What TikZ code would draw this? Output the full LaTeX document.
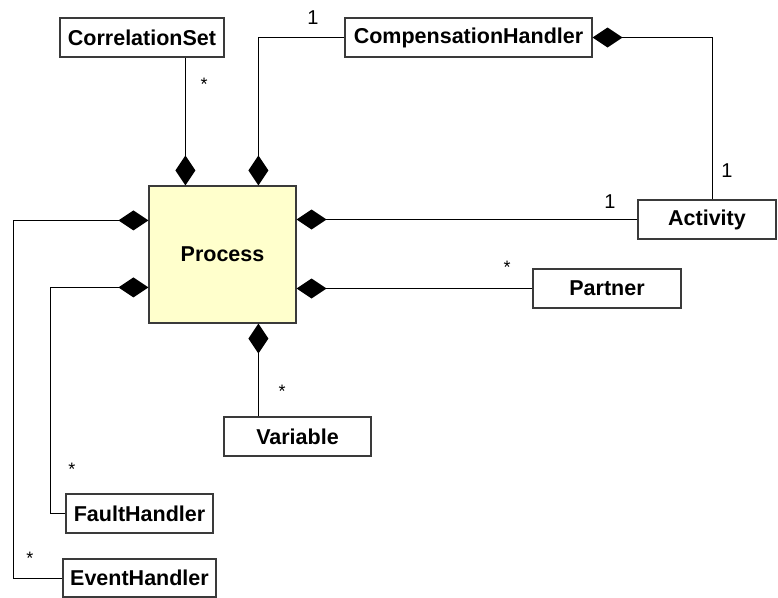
\documentclass[tikz,border=0pt]{standalone}
\usepackage{fontspec}
\setmainfont{Liberation Sans}
\usetikzlibrary{arrows.meta,calc}
\definecolor{procfill}{HTML}{FFFFCC}
\definecolor{boxline}{HTML}{3A3A3A}
\tikzset{
  classbox/.style={draw=boxline, line width=1.2pt, fill=white, inner sep=0pt,
    font=\fontsize{21.5}{21.5}\selectfont\bfseries},
  comp/.style={draw=black, line width=1pt,
    -{Diamond[length=30pt,width=20pt,line width=0pt]}},
  mult/.style={inner sep=0pt, font=\fontsize{20}{20}\selectfont},
  star/.style={inner sep=0pt, font=\fontsize{18}{18}\selectfont},
}
\begin{document}
\begin{tikzpicture}[x=1pt,y=-1pt]
  \useasboundingbox (0,0) rectangle (778,597);

  % classes
  \node[classbox, minimum width=147pt, minimum height=137pt, fill=procfill] (proc) at (222.5,254.5) {Process};
  \node[classbox, minimum width=164pt, minimum height=39pt] (cs) at (142,37.5) {CorrelationSet};
  \node[classbox, minimum width=247pt, minimum height=39pt] (ch) at (468.5,37.5) {CompensationHandler};
  \node[classbox, minimum width=138pt, minimum height=39pt] (act) at (707,219.5) {Activity};
  \node[classbox, minimum width=148pt, minimum height=39pt] (partner) at (607,288.5) {Partner};
  \node[classbox, minimum width=147pt, minimum height=39pt] (var) at (297.5,436.5) {Variable};
  \node[classbox, minimum width=147pt, minimum height=39pt] (fh) at (139.5,513.5) {FaultHandler};
  \node[classbox, minimum width=153pt, minimum height=38pt] (eh) at (139.5,578) {EventHandler};

  % attachment points on the Process box
  \coordinate (pt1) at ($(proc.north west)+(37,0)$);
  \coordinate (pt2) at ($(proc.north west)+(110,0)$);
  \coordinate (pl1) at ($(proc.north west)+(0,35)$);
  \coordinate (pl2) at ($(proc.north west)+(0,102)$);
  \coordinate (pb)  at ($(proc.south west)+(110,0)$);
  \coordinate (actup) at ($(act.north)+(5,0)$);

  % compositions
  \draw[comp] (cs.south -| pt1) -- (pt1);
  \draw[comp] (ch.west) -| (pt2);
  \draw[comp] (actup) |- (ch.east);
  \draw[comp] (act.west) -- (act.west -| proc.east);
  \draw[comp] (partner.west) -- (partner.west -| proc.east);
  \draw[comp] (var.north -| pb) -- (pb);
  \draw[comp] (fh.west) -| ($(pl2)+(-98,0)$) -- (pl2);
  \draw[comp] (eh.west) -| ($(pl1)+(-135,0)$) -- (pl1);

  % multiplicities
  \node[mult] (m1) at (313,18) {1};
  \node[star] (m2) at (204,84) {*};
  \node[mult] (m3) at (727,171) {1};
  \node[mult] (m4) at (610,202) {1};
  \node[star] (m5) at (507,267) {*};
  \node[star] (m6) at (282,391) {*};
  \node[star] (m7) at (72,469) {*};
  \node[star] (m8) at (30,558) {*};
\end{tikzpicture}
\end{document}
